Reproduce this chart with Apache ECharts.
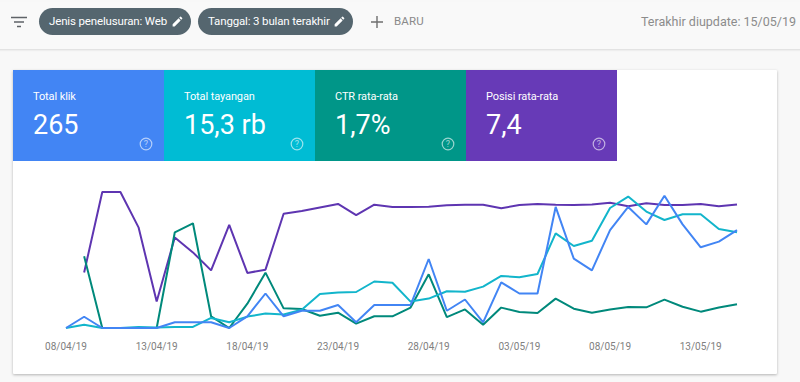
<!DOCTYPE html>
<html>
<head>
<meta charset="utf-8">
<title>Performa</title>
<script src="https://cdn.jsdelivr.net/npm/echarts@6/dist/echarts.min.js"></script>
<style>
html, body { margin: 0; padding: 0; width: 800px; height: 382px; overflow: hidden; background: #f8f8f8; font-family: Roboto, sans-serif; }
.abs { position: absolute; }
.topbar { left: 0; top: 2px; width: 800px; height: 47px; background: #f9f9f9; border-bottom: 1px solid #e3e3e3; box-shadow: 0 1px 1px #eee; }
.chip { top: 8px; height: 27px; line-height: 27px; border-radius: 14px; background: #55666f; color: #fff; font-size: 11.5px; letter-spacing: -0.15px; white-space: nowrap; box-sizing: border-box; padding-left: 10px; }
.chip svg { position: absolute; top: 7px; }
.baru { left: 394px; top: 14px; font-size: 11.5px; color: #8a8a8a; letter-spacing: 0.2px; }
.updated { right: 4px; top: 14px; font-size: 12.5px; color: #8c8c8c; white-space: nowrap; }
.card { left: 13px; top: 70px; width: 764px; height: 304px; background: #fff; box-shadow: 0 1px 3px rgba(0,0,0,.28); border-radius: 1px; }
.tile { top: 70px; width: 151px; height: 91px; color: #fff; }
.tile .name { position: absolute; left: 20px; top: 20px; font-size: 11px; letter-spacing: -0.1px; white-space: nowrap; }
.tile .val { position: absolute; left: 20px; top: 39px; font-size: 27px; line-height: 33px; white-space: nowrap; }
.tile svg { position: absolute; left: 126px; top: 67px; }
#main { left: 0; top: 0; width: 800px; height: 382px; }
</style>
</head>
<body>
<div class="abs topbar">
  <svg class="abs" style="left:11px;top:14px" width="16" height="12" viewBox="0 0 16 12"><path d="M0 1.5h16M3 6h10M6 10.5h4" stroke="#5f6368" stroke-width="1.5" fill="none"/></svg>
</div>
<div class="abs card"></div>
<div id="main" class="abs"></div>
<div id="chrome"></div>
<script>
// nilai: tinggi relatif tiap garis, 0 = dasar grafik, 100 = puncak area
const dates = ['08/04/19','09/04/19','10/04/19','11/04/19','12/04/19','13/04/19','14/04/19','15/04/19','16/04/19','17/04/19','18/04/19','19/04/19','20/04/19','21/04/19','22/04/19','23/04/19','24/04/19','25/04/19','26/04/19','27/04/19','28/04/19','29/04/19','30/04/19','01/05/19','02/05/19','03/05/19','04/05/19','05/05/19','06/05/19','07/05/19','08/05/19','09/05/19','10/05/19','11/05/19','12/05/19','13/05/19','14/05/19','15/05/19'];
const klik = [0,7.5,0,0,0,0,3.8,3.8,3.8,0,7.8,23,7.8,11.5,11.5,15.3,3.8,15.3,15.3,15.3,46,11.5,19,3.8,30.4,23,23,80.7,46.2,38.4,65.3,80.7,69.1,88.2,69.1,53.8,57.6,65.3];
const tayangan = [0,2.2,0,0,0.7,0.4,0.7,0.7,6.7,3.8,7.6,9.6,9,12.2,22.7,23.6,24,31,30.2,17.6,19.6,24.5,24.2,27.6,34.7,33.8,36,63.1,54.7,58.2,80,87.6,77.6,72,75.8,75.8,66,63.8];
const ctr = [null,47.8,0,0,0,0,63.8,69.8,7.8,0,16.2,36.9,13.1,12.7,8.2,10.2,2.9,7.8,7.8,13.6,35.8,7.3,12.4,2.2,13.6,10.7,10,19.6,12.9,10.2,12.4,14,13.8,18.9,14.2,10.9,13.6,15.8];
const posisi = [null,37,90.7,90.7,67.1,17.6,60.4,50.4,38.4,68.7,36.7,38.9,76.2,78,80.4,82.7,75.3,82.2,80.7,80.7,80.9,81.8,82.2,82.2,79.8,82,82.7,82.2,82,82.4,83.5,81.1,83.1,82,82,82.7,81.1,82.4];

const lineColors = ['#4285f4', '#12b5cb', '#00897b', '#5e35b1'];

const tileNames = ['Total klik', 'Total tayangan', 'CTR rata-rata', 'Posisi rata-rata'];
const tileValues = ['265', '15,3 rb', '1,7%', '7,4'];
const tileColors = ['#4285f4', '#00bcd4', '#009688', '#673ab7'];
const chipLabels = ['Jenis penelusuran: Web', 'Tanggal: 3 bulan terakhir'];

const pencil = x => `<svg style="left:${x}px" width="13" height="13" viewBox="0 0 24 24"><path fill="#fff" d="M3 17.25V21h3.75L17.81 9.94l-3.75-3.75L3 17.25zM20.71 7.04a1 1 0 0 0 0-1.41l-2.34-2.34a1 1 0 0 0-1.41 0l-1.83 1.83 3.75 3.75 1.83-1.83z"/></svg>`;
const help = `<svg width="14" height="14" viewBox="0 0 14 14"><circle cx="7" cy="7" r="5.8" fill="none" stroke="rgba(255,255,255,.6)" stroke-width="1.2"/><text x="7" y="10.2" text-anchor="middle" font-size="9" font-family="Roboto" fill="rgba(255,255,255,.6)">?</text></svg>`;

const chrome = document.getElementById('chrome');
let html = '';
const chipPos = [[39, 152, 132], [198, 155, 135]];
chipLabels.forEach((t, i) => {
  html += `<div class="abs chip" style="left:${chipPos[i][0]}px;width:${chipPos[i][1]}px">${t}${pencil(chipPos[i][2])}</div>`;
});
html += `<svg class="abs" style="left:370px;top:15px" width="14" height="14" viewBox="0 0 14 14"><path d="M7 1v12M1 7h12" stroke="#6f6f6f" stroke-width="1.4"/></svg>`;
html += `<div class="abs baru">BARU</div>`;
html += `<div class="abs updated">Terakhir diupdate: 15/05/19</div>`;
tileNames.forEach((t, i) => {
  html += `<div class="abs tile" style="left:${13 + i * 151}px;background:${tileColors[i]}"><div class="name">${t}</div><div class="val">${tileValues[i]}</div>${help}</div>`;
});
chrome.innerHTML = html;

const chart = echarts.init(document.getElementById('main'), null, { renderer: 'svg' });
const mkSeries = (name, data, i) => ({
  name, data, type: 'line', symbol: 'none', smooth: false, connectNulls: false,
  lineStyle: { color: lineColors[i], width: 2 }, itemStyle: { color: lineColors[i] }
});
chart.setOption({
  animation: false,
  grid: { left: 66, right: 63, top: 178, bottom: 54 },
  xAxis: {
    type: 'category', data: dates, boundaryGap: false,
    axisLine: { show: false }, axisTick: { show: false },
    axisLabel: { interval: 4, color: '#808080', fontSize: 10, fontFamily: 'Roboto', margin: 13 }
  },
  yAxis: { type: 'value', min: 0, max: 100, show: false },
  series: [
    mkSeries('Posisi rata-rata', posisi, 3),
    mkSeries('CTR rata-rata', ctr, 2),
    mkSeries('Total tayangan', tayangan, 1),
    mkSeries('Total klik', klik, 0)
  ]
});
</script>
</body>
</html>
